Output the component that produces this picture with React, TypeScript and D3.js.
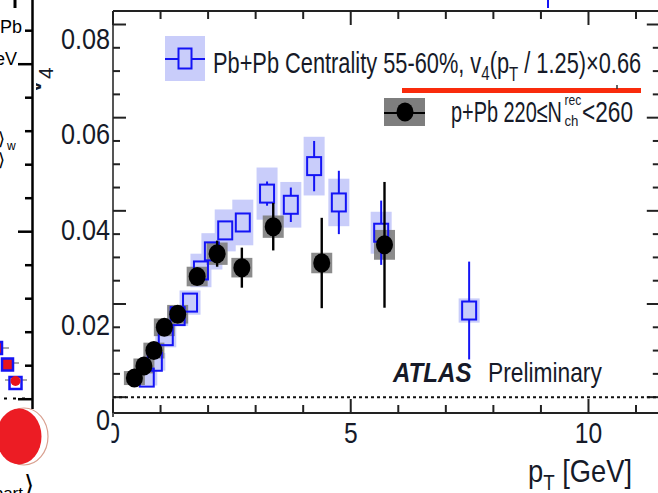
import React, { useRef, useLayoutEffect, useState } from 'react';
import * as d3 from 'd3';

// ---------- data ----------
const pbpbPt = [0.71, 0.88, 1.11, 1.36, 1.62, 1.85, 2.08, 2.36, 2.73, 3.24, 3.74, 4.23, 4.75, 5.64, 7.49];
const pbpbV4 = [0.0042, 0.0076, 0.0131, 0.0174, 0.0203, 0.0272, 0.0313, 0.0358, 0.0375, 0.0437, 0.0413, 0.0496, 0.0418, 0.0353, 0.0186];
const pbpbStat = [0.0005, 0.0006, 0.0008, 0.001, 0.0012, 0.0014, 0.0016, 0.0017, 0.0017, 0.0026, 0.0037, 0.0054, 0.0068, 0.0069, 0.0105];
const pbpbSyst = [0.0017, 0.0019, 0.0024, 0.0021, 0.0026, 0.0036, 0.0039, 0.0045, 0.0049, 0.0056, 0.0049, 0.0063, 0.0051, 0.0045, 0.0026];

const ppbPt = [0.45, 0.65, 0.86, 1.08, 1.36, 1.77, 2.19, 2.71, 3.37, 4.39, 5.71];
const ppbV4 = [0.0041, 0.0067, 0.01, 0.015, 0.0178, 0.0259, 0.0308, 0.0278, 0.0366, 0.0288, 0.0327];
const ppbStat = [0.0004, 0.0005, 0.0006, 0.0008, 0.001, 0.0015, 0.0028, 0.0043, 0.0051, 0.0097, 0.0135];
const ppbSyst = [0.0015, 0.0016, 0.0017, 0.0019, 0.002, 0.0021, 0.0024, 0.0021, 0.0024, 0.0022, 0.0032];

const yTickLabels = ['0', '0.02', '0.04', '0.06', '0.08'];
const yLabelValues = [0, 0.02, 0.04, 0.06, 0.08];
const xTickLabels = ['0', '5', '10'];
const xLabelValues = [0, 5, 10];

// ---------- style ----------
const FONT = "'Liberation Sans', Arial, Helvetica, sans-serif";
const BLUE = '#1414f5';
const LBLUE = '#c9cdfa';
const GRAY = '#7e7e7e';
const TXT = '#161a28';

function FitText({ x, y, width, anchor = 'start', children, ...rest }: any) {
  const ref = useRef<SVGTextElement>(null);
  const [s, setS] = useState(1);
  useLayoutEffect(() => {
    const measure = () => {
      const el = ref.current;
      if (!el) return;
      const w = el.getBBox().width;
      if (w > 0) setS(width / w);
    };
    measure();
    if ((document as any).fonts && (document as any).fonts.ready) {
      (document as any).fonts.ready.then(measure);
    }
  }, [width]);
  return (
    <g transform={`translate(${x},${y}) scale(${s},1)`}>
      <text ref={ref} x={0} y={0} textAnchor={anchor} fontFamily={FONT} fill={TXT} {...rest}>
        {children}
      </text>
    </g>
  );
}

export default function App() {
  const x = d3.scaleLinear().domain([0, 11.5]).range([113, 659.8]);
  const y = d3.scaleLinear().domain([-0.0034, 0.0829]).range([413, 11]);
  const yLab = d3.scaleLinear().domain([0, 0.08]).range([419.5, 38.5]);

  const x0 = x(0), x1 = x(11.5), yTop = y(0.0829), yBot = y(-0.0034);
  const yTicks = d3.range(0, 17).map((i) => i * 0.005);
  const xTicks = d3.range(0, 12);

  const boxW = 21;
  const sqW = 14, sqH = 18;
  const cRx = 8.5, cRy = 9.5;

  return (
    <svg width={658} height={493} style={{ position: 'absolute', left: 0, top: 0, background: '#fff' }}>
      <defs>
        <clipPath id="mainClip">
          <rect x={36} y={0} width={700} height={493} />
        </clipPath>
      </defs>
      <rect x={0} y={0} width={658} height={493} fill="#fff" />

      {/* main y-title, clipped at the panel boundary */}
      <g clipPath="url(#mainClip)">
        <text transform="translate(41,94) rotate(-90)" fontFamily={FONT} fontSize={30} fill={TXT}>
          v<tspan fontSize={21} dy={12}>4</tspan>
        </text>
      </g>

      {/* ---------- left neighbouring panel fragment ---------- */}
      <line x1={32.5} x2={32.5} y1={0} y2={409} stroke="#000" strokeWidth={2.5} />
      {d3.range(0, 13).map((i) => {
        const ty = 30.7 + i * 33.5;
        const major = i === 1 || i === 6 || i === 11;
        return <line key={'lt' + i} x1={32.5} x2={major ? 18 : 25} y1={ty} y2={ty} stroke="#000" strokeWidth={2.5} />;
      })}
      <line x1={15} x2={15} y1={0} y2={8} stroke="#000" strokeWidth={3} />
      <text x={22} y={33} textAnchor="end" fontFamily={FONT} fontSize={18} fill="#000">Pb</text>
      <text x={17} y={65} textAnchor="end" fontFamily={FONT} fontSize={18} fill="#000">eV</text>
      <text x={5} y={145} textAnchor="end" fontFamily="'DejaVu Sans', sans-serif" fontSize={18} fill="#000">⟩</text>
      <text x={7} y={150} fontFamily={FONT} fontSize={12} fill="#000">w</text>
      <text x={5} y={166} textAnchor="end" fontFamily="'DejaVu Sans', sans-serif" fontSize={18} fill="#000">⟩</text>
      {/* small markers of the left panel */}
      <line x1={0} x2={9} y1={348} y2={348} stroke="#aaa" strokeWidth={2} />
      <rect x={-10} y={342} width={12} height={12} fill="#e8141c" stroke={BLUE} strokeWidth={2.5} />
      <line x1={13} x2={19} y1={363} y2={363} stroke="#aaa" strokeWidth={2} />
      <rect x={2} y={358.5} width={11} height={12} fill="#e8141c" stroke={BLUE} strokeWidth={2.5} />
      <line x1={5} x2={27} y1={380} y2={380} stroke="#aaa" strokeWidth={2} />
      <rect x={9.5} y={377} width={12} height={12} fill="#fff" stroke={BLUE} strokeWidth={2.5} />
      <ellipse cx={15.5} cy={381} rx={5} ry={5} fill="#e8141c" />
      <line x1={4} x2={27} y1={398.5} y2={398.5} stroke="#000" strokeWidth={2} strokeDasharray="3 6" />
      <ellipse cx={24} cy={436.5} rx={24} ry={28.5} fill="#fff" stroke="#d9a090" strokeWidth={1.2} />
      <ellipse cx={19} cy={436.5} rx={22.5} ry={28} fill="#ec1c24" />
      <text x={23} y={499} textAnchor="end" fontFamily={FONT} fontSize={17} fill="#000">part</text>
      <text x={24} y={494} fontFamily="'DejaVu Sans', sans-serif" fontSize={26} fill="#000">⟩</text>

      {/* ---------- main frame ---------- */}
      <line x1={x0} x2={x1} y1={yTop} y2={yTop} stroke="#222" strokeWidth={2} />
      <line x1={x0} x2={x1} y1={yBot} y2={yBot} stroke="#222" strokeWidth={2.2} />
      <line x1={x0} x2={x0} y1={yTop} y2={yBot + 4} stroke="#555" strokeWidth={2} />
      <line x1={x1} x2={x1} y1={yTop} y2={yBot} stroke="#222" strokeWidth={2} />

      {yTicks.map((v, i) => {
        const major = i % 4 === 0;
        const L = major ? 13 : 7;
        return (
          <g key={'yt' + i}>
            <line x1={x0} x2={x0 + L} y1={y(v)} y2={y(v)} stroke="#222" strokeWidth={2} />
            <line x1={x1} x2={x1 - L} y1={y(v)} y2={y(v)} stroke="#222" strokeWidth={2} />
          </g>
        );
      })}
      {xTicks.map((v) => {
        const major = v % 5 === 0;
        const L = major ? 14 : 8;
        return (
          <g key={'xt' + v}>
            <line x1={x(v)} x2={x(v)} y1={yBot} y2={yBot - L} stroke="#222" strokeWidth={2} />
            <line x1={x(v)} x2={x(v)} y1={yTop} y2={yTop + L} stroke="#222" strokeWidth={2} />
          </g>
        );
      })}

      {/* x tick labels */}
      {xLabelValues.map((v, i) => (
        <text key={'xl' + i} transform={`translate(${x(v)},443) scale(0.82,1)`} textAnchor="middle" fontFamily={FONT} fontSize={30} fill={TXT}>
          {xTickLabels[i]}
        </text>
      ))}
      <rect x={60} y={414.5} width={51.5} height={40} fill="#fff" />
      {/* y tick labels */}
      {yLabelValues.map((v, i) => (
        <text key={'yl' + i} transform={`translate(110,${yLab(v) + 10.5}) scale(0.87,1)`} textAnchor="end" fontFamily={FONT} fontSize={29} fill={TXT}>
          {yTickLabels[i]}
        </text>
      ))}

      {/* zero line */}
      <line x1={x0} x2={x1} y1={y(0)} y2={y(0)} stroke="#111" strokeWidth={2} strokeDasharray="3 3" />

      {/* ---------- data ---------- */}
      {pbpbPt.map((p, i) => (
        <rect key={'bs' + i} x={x(p) - boxW / 2} y={y(pbpbV4[i] + pbpbSyst[i])} width={boxW}
          height={y(pbpbV4[i] - pbpbSyst[i]) - y(pbpbV4[i] + pbpbSyst[i])} fill={LBLUE} />
      ))}
      {ppbPt.map((p, i) => (
        <rect key={'gs' + i} x={x(p) - boxW / 2} y={y(ppbV4[i] + ppbSyst[i])} width={boxW}
          height={y(ppbV4[i] - ppbSyst[i]) - y(ppbV4[i] + ppbSyst[i])} fill={GRAY} opacity={0.9} />
      ))}
      {pbpbPt.map((p, i) => {
        const cy = y(pbpbV4[i]);
        const top = y(pbpbV4[i] + pbpbStat[i]);
        const bot = y(pbpbV4[i] - pbpbStat[i]);
        return (
          <g key={'be' + i}>
            {top < cy - sqH / 2 && <line x1={x(p)} x2={x(p)} y1={top} y2={cy - sqH / 2} stroke={BLUE} strokeWidth={2} />}
            {bot > cy + sqH / 2 && <line x1={x(p)} x2={x(p)} y1={cy + sqH / 2} y2={bot} stroke={BLUE} strokeWidth={2} />}
            <rect x={x(p) - sqW / 2} y={cy - sqH / 2} width={sqW} height={sqH} fill="none" stroke={BLUE} strokeWidth={2} />
          </g>
        );
      })}
      {ppbPt.map((p, i) => (
        <g key={'ke' + i}>
          <line x1={x(p)} x2={x(p)} y1={y(ppbV4[i] + ppbStat[i])} y2={y(ppbV4[i] - ppbStat[i])} stroke="#000" strokeWidth={2.4} />
          <ellipse cx={x(p)} cy={y(ppbV4[i])} rx={cRx} ry={cRy} fill="#000" />
        </g>
      ))}

      {/* ---------- legend ---------- */}
      <rect x={165} y={36} width={40} height={45} fill={LBLUE} />
      <line x1={165} x2={205} y1={59} y2={59} stroke={BLUE} strokeWidth={2} />
      <rect x={178.5} y={48.5} width={13} height={20} fill={LBLUE} stroke={BLUE} strokeWidth={2} />
      <FitText x={213} y={73} width={428} fontSize={29}>
        Pb+Pb  Centrality 55-60%, v<tspan fontSize={20} dy={7}>4</tspan>
        <tspan dy={-7}>(p</tspan><tspan fontSize={20} dy={8}>T</tspan>
        <tspan dy={-8}> / 1.25)×0.66</tspan>
      </FitText>

      <rect x={384} y={98} width={41} height={28} fill={GRAY} />
      <line x1={384} x2={425} y1={113} y2={113} stroke="#000" strokeWidth={2} />
      <ellipse cx={405} cy={112} rx={cRx} ry={cRy} fill="#000" />
      <FitText x={451} y={122} width={111} fontSize={29}>p+Pb 220≤N</FitText>
      <FitText x={564.5} y={105} width={17} fontSize={15}>rec</FitText>
      <FitText x={564.5} y={126} width={14} fontSize={15}>ch</FitText>
      <FitText x={582} y={122} width={51} fontSize={29}>&lt;260</FitText>

      {/* ATLAS label */}
      <FitText x={393} y={382} width={80} fontSize={28} fontWeight="bold" fontStyle="italic">ATLAS</FitText>
      <FitText x={488} y={382} width={114} fontSize={28}>Preliminary</FitText>

      {/* x title */}
      <FitText x={528} y={482} width={104} fontSize={32}>
        p<tspan fontSize={22} dy={8}>T</tspan><tspan dy={-8}> [GeV]</tspan>
      </FitText>

      {/* overlay artefacts */}
      <line x1={402} x2={641} y1={90.5} y2={90.5} stroke="#f92b0c" strokeWidth={5} />
      <line x1={617} x2={617} y1={85} y2={89} stroke="#333" strokeWidth={1.5} />
      <line x1={548} x2={548} y1={0} y2={8} stroke={BLUE} strokeWidth={2} />
    </svg>
  );
}
